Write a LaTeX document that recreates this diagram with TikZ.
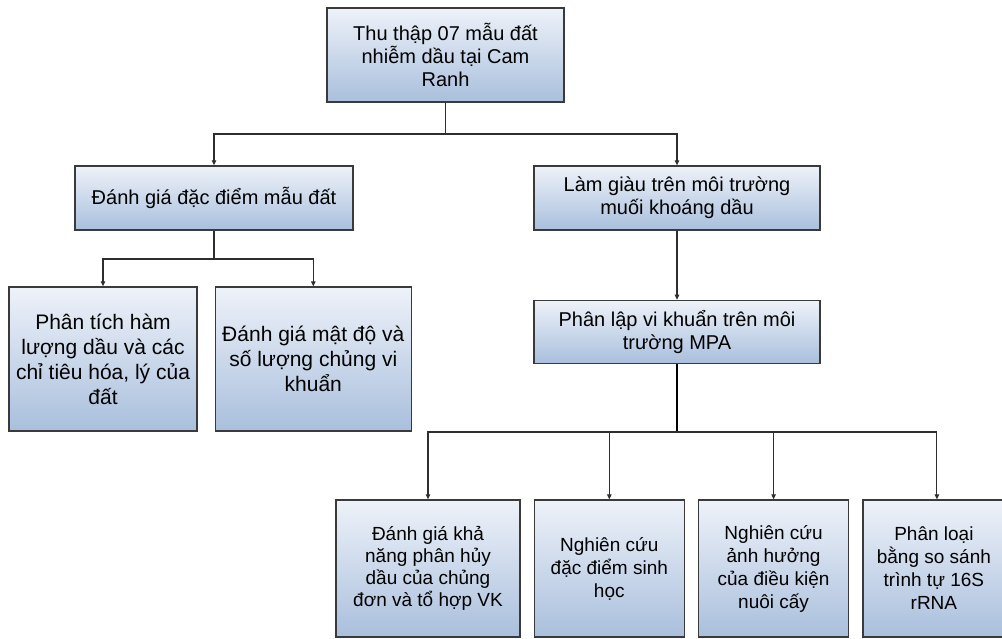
\documentclass[tikz,border=0pt]{standalone}
\usepackage{fontspec}
\setmainfont{Liberation Sans}
\usepackage{xcolor}
\usetikzlibrary{arrows.meta,positioning}
\definecolor{edge}{HTML}{3A3A3A}
\definecolor{paleblue}{HTML}{EEF2F9}
\definecolor{steelblue}{HTML}{A9BFDD}
\definecolor{wire}{HTML}{2E2E2E}

\begin{document}
\begin{tikzpicture}[
  x=1pt, y=-1pt,
  font=\fontsize{20}{23}\selectfont,
  box/.style={draw=edge, line width=1.3pt, top color=paleblue, bottom color=steelblue,
              align=center, inner sep=2pt},
  leaf/.style={box, font=\fontsize{19}{23}\selectfont, minimum height=137pt},
  arrow/.style={-{Triangle[length=5pt,width=4.5pt]}, line width=1.1pt, draw=wire}
]
  \useasboundingbox (0,0) rectangle (1002,639);

  % upper part
  \node[box, minimum width=237pt, minimum height=94pt] (collect) at (445.5,55)
    {Thu thập 07 mẫu đất\\nhiễm dầu tại Cam\\Ranh};
  \node[box, minimum width=278pt, minimum height=64pt] (soil) at (214,198)
    {Đánh giá đặc điểm mẫu đất};
  \node[box, minimum width=286pt, minimum height=64pt] (enrich) at (677,198)
    {Làm giàu trên môi trường\\muối khoáng dầu};
  \node[box, minimum width=286pt, minimum height=63pt, below=69pt of enrich] (isolate)
    {Phân lập vi khuẩn trên môi\\trường MPA};

  % soil branch
  \node[box, font=\fontsize{21}{25}\selectfont, minimum width=188pt, minimum height=144pt] (oil) at (103,359)
    {Phân tích hàm\\lượng dầu và các\\chỉ tiêu hóa, lý của\\đất};
  \node[box, font=\fontsize{21}{25}\selectfont, minimum width=196pt, minimum height=144pt, right=17pt of oil] (count)
    {Đánh giá mật độ và\\số lượng chủng vi\\khuẩn};

  % bacteria branch
  \node[leaf, minimum width=184pt, font=\fontsize{19}{22}\selectfont] (degrade) at (428,568.5)
    {Đánh giá khả\\năng phân hủy\\dầu của chủng\\đơn và tổ hợp VK};
  \node[leaf, minimum width=150pt, right=13pt of degrade] (biology)
    {Nghiên cứu\\đặc điểm sinh\\học};
  \node[leaf, minimum width=150pt, right=13pt of biology] (culture)
    {Nghiên cứu\\ảnh hưởng\\của điều kiện\\nuôi cấy};
  \node[leaf, minimum width=142pt, right=13pt of culture] (rrna)
    {Phân loại\\bằng so sánh\\trình tự 16S\\rRNA};

  \coordinate (split1) at (445.5,134);
  \coordinate (split2) at (214,259);
  \coordinate (split3) at (677,432);

  \draw[line width=1.1pt, draw=wire] (collect.south) -- (split1);
  \draw[arrow] (split1) -| (soil.north);
  \draw[arrow] (split1) -| (enrich.north);

  \draw[line width=1.1pt, draw=wire] (soil.south) -- (split2);
  \draw[arrow] (split2) -| (oil.north);
  \draw[arrow] (split2) -| (count.north);

  \draw[arrow] (enrich.south) -- (isolate.north);

  \draw[line width=2.4pt, draw=black] (isolate.south) -- (split3);
  \draw[arrow] (split3) -| (degrade.north);
  \draw[arrow] (split3) -| (biology.north);
  \draw[arrow] (split3) -| (culture.north);
  \draw[arrow] (split3) -| ([xshift=3pt]rrna.north);
\end{tikzpicture}
\end{document}
